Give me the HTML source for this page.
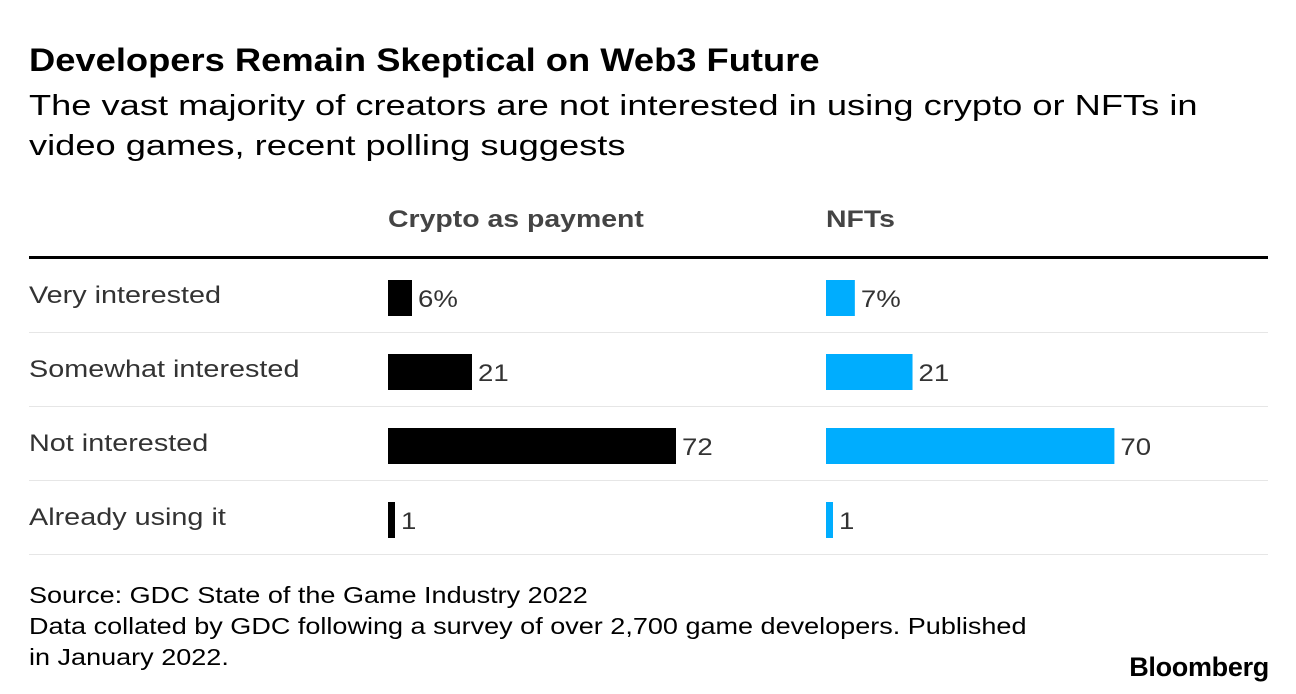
<!DOCTYPE html>
<html><head><meta charset="utf-8"><style>
body{margin:0;width:1296px;height:694px;background:#fff;font-family:"Liberation Sans",Arial,sans-serif;position:relative;overflow:hidden}
.a{position:absolute;white-space:nowrap;transform-origin:0 0}
</style></head><body>
<div class="a" style="left:29px;top:42px;font-size:32px;font-weight:bold;color:#000;transform:scaleX(1.135)">Developers Remain Skeptical on Web3 Future</div>
<div class="a" style="left:29px;top:86px;font-size:29px;line-height:40px;color:#000;transform:scaleX(1.25)">The vast majority of creators are not interested in using crypto or NFTs in<br>video games, recent polling suggests</div>
<svg id="c" width="1296" height="694" style="position:absolute;left:0;top:0"></svg>
<div class="a" style="left:29px;top:580px;font-size:23px;line-height:31px;color:#000;transform:scaleX(1.175)">Source: GDC State of the Game Industry 2022<br>Data collated by GDC following a survey of over 2,700 game developers. Published<br>in January 2022.</div>
<div class="a" style="right:27px;top:652px;font-size:27px;font-weight:bold;letter-spacing:-0.3px;color:#000">Bloomberg</div>
<script>
const categories=["Very interested","Somewhat interested","Not interested","Already using it"];
const cryptoValues=[6,21,72,1];
const nftValues=[7,21,70,1];
const seriesNames=["Crypto as payment","NFTs"];
const NS="http://www.w3.org/2000/svg";
const svg=document.getElementById('c');
function mk(t,a,txt){const e=document.createElementNS(NS,t);for(const k in a)e.setAttribute(k,a[k]);if(txt!==undefined)e.textContent=txt;svg.appendChild(e);return e;}
const scale=v=>v*4.0;
const rowY=i=>280+i*74;
const colX=[388,826],colors=["#000","#00adfe"],series=[cryptoValues,nftValues];
seriesNames.forEach((n,j)=>{
  const t=mk('text',{x:0,y:0,transform:`translate(${colX[j]},227) scale(1.185,1)`,'font-size':24,'font-weight':'bold',fill:'#444'},n);
  
  
});
const hl=mk('rect',{x:29,y:256,width:1239,height:3,fill:'#000'});


categories.forEach((c,i)=>{
  const y=rowY(i);
  const l=mk('text',{x:0,y:0,transform:`translate(29,${y+23}) scale(1.2,1)`,'font-size':24,fill:'#333'},c);
  
  
  const s=mk('rect',{x:29,y:y+52,width:1239,height:1,fill:'#e6e6e6'});
  
  
  series.forEach((vals,j)=>{
    const w=Math.max(scale(vals[i]) * (j===1?1.03:1),7);
    const b=mk('rect',{x:colX[j],y:y,width:w,height:36,fill:colors[j]});
    
    
    const v=mk('text',{x:0,y:0,transform:`translate(${colX[j]+w+6},${y+27}) scale(1.15,1)`,'font-size':24,fill:'#333'},vals[i]+(i===0?'%':''));
    
    
  });
});
</script>
</body></html>
